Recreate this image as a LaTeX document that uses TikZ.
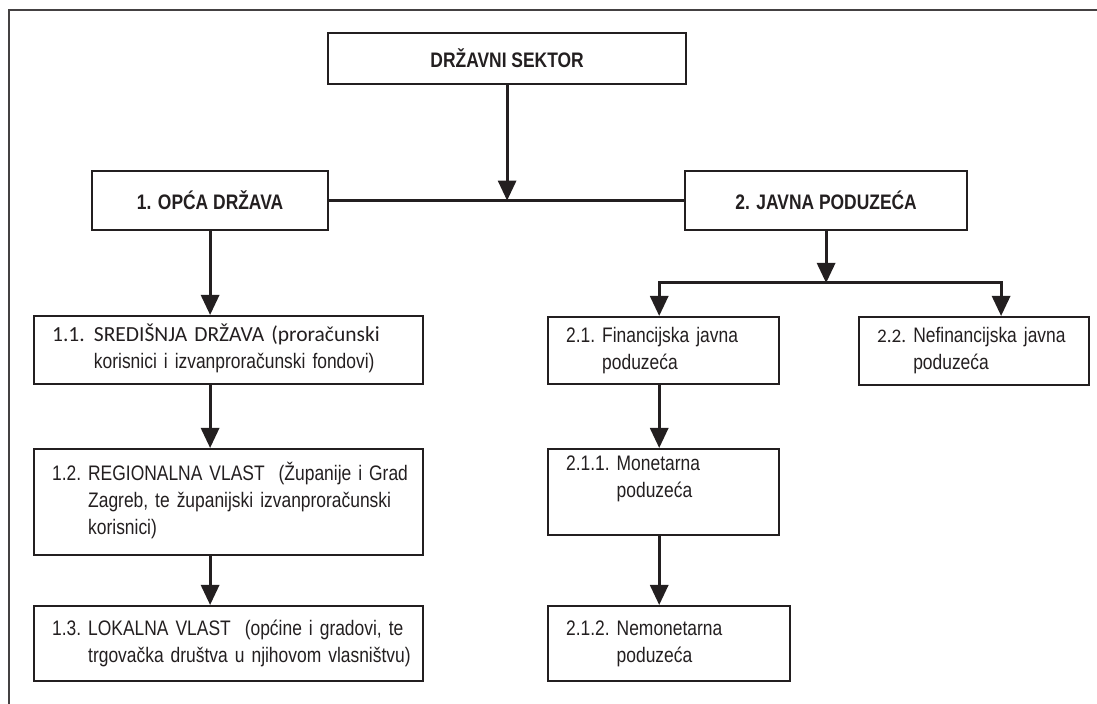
\documentclass[tikz,border=0pt]{standalone}
\usepackage{fontspec}
\setmainfont{Liberation Sans}
\newfontfamily\narrowfont[FakeStretch=0.83]{Liberation Sans}
\newfontfamily\calfont{Carlito}
\usetikzlibrary{arrows.meta,positioning}
\definecolor{ink}{HTML}{231F20}

\begin{document}
\begin{tikzpicture}[x=0.5pt,y=-0.5pt,every node/.style={font=\narrowfont\fontsize{10.5}{13.5}\selectfont,text=ink},box/.style={draw=ink,line width=1.1pt,inner xsep=9pt,inner ysep=0pt,anchor=north west,align=left},head/.style={draw=ink,line width=1.1pt,anchor=north west,font=\narrowfont\bfseries\fontsize{10.5}{13.5}\selectfont},arr/.style={draw=ink,line width=1.5pt,-{Triangle[length=10pt,width=9pt]}}]
\useasboundingbox (0,0) rectangle (1097,704);
\draw[ink!85,line width=1pt] (9,704) -- (9,10) -- (1097,10);
% top level
\node[head,minimum width=179pt,minimum height=25.5pt] (sektor) at (327,32) {DRŽAVNI SEKTOR};
\node[head,minimum width=118pt,minimum height=29.5pt] (opca) at (91,170) {1. OPĆA DRŽAVA};
\node[head,minimum width=141pt,minimum height=29.5pt] (javna) at (684,170) {2. JAVNA PODUZEĆA};
% left column
\node[box,text width=176.5pt,minimum height=34pt] (sredisnja) at (33,315) {\begin{tabular}{@{}l@{\hspace{4.6pt}}l@{}}{\calfont\fontsize{10.75}{13.5}\selectfont 1.1.} & {\calfont\fontsize{10.75}{13.5}\selectfont SREDIŠNJA DRŽAVA (proračunski}\\ & korisnici i izvanproračunski fondovi)\end{tabular}};
\node[box,text width=176.5pt,minimum height=53pt] (regionalna) at (33,448) {\begin{tabular}{@{}l@{~}l@{}}1.2. & REGIONALNA VLAST~ (Županije i Grad\\ & Zagreb, te županijski izvanproračunski\\ & korisnici)\end{tabular}};
\node[box,text width=176.5pt,minimum height=37.5pt] (lokalna) at (33,605) {\begin{tabular}{@{}l@{~}l@{}}1.3. & LOKALNA VLAST~ (općine i gradovi, te\\ & trgovačka društva u njihovom vlasništvu)\end{tabular}};
% right column
\node[box,text width=97.5pt,minimum height=33.5pt] (fin) at (547,316) {\begin{tabular}{@{}l@{~}l@{}}2.1. & Financijska javna\\ & poduzeća\end{tabular}};
\node[box,text width=97pt,minimum height=34pt] (nefin) at (858,316) {\begin{tabular}{@{}l@{~}l@{}}{\calfont\fontsize{9.6}{13.5}\selectfont 2.2.} & Nefinancijska javna\\ & poduzeća\end{tabular}};
\node[box,text width=97.5pt,minimum height=43pt] (monetarna) at (547,448) {\begin{tabular}{@{}l@{~}l@{}}2.1.1. & Monetarna\\ & poduzeća\\ & \end{tabular}};
\node[box,text width=103pt,minimum height=37.5pt] (nemonetarna) at (547,605) {\begin{tabular}{@{}l@{~}l@{}}2.1.2. & Nemonetarna\\ & poduzeća\end{tabular}};
% connectors
\draw[draw=ink,line width=1.5pt] (opca) -- (javna);
\draw[arr] (sektor.south) -- (sektor.south |- opca.east);
\draw[arr] (opca.south) -- (opca.south |- sredisnja.north);
\draw[arr] (opca.south |- sredisnja.south) -- (opca.south |- regionalna.north);
\draw[arr] (opca.south |- regionalna.south) -- (opca.south |- lokalna.north);
\coordinate (split) at (javna.south |- 0,283);
\draw[arr] (javna.south) -- (split);
\draw[arr] (split) -| ([xshift=-2.2pt]fin.north);
\draw[arr] (split) -| ([xshift=13.5pt]nefin.north);
\draw[arr] ([xshift=-2.2pt]fin.south) -- ([xshift=-2.2pt]fin.south |- monetarna.north);
\draw[arr] ([xshift=-2.2pt]monetarna.south) -- ([xshift=-2.2pt]monetarna.south |- nemonetarna.north);
\end{tikzpicture}
\end{document}
